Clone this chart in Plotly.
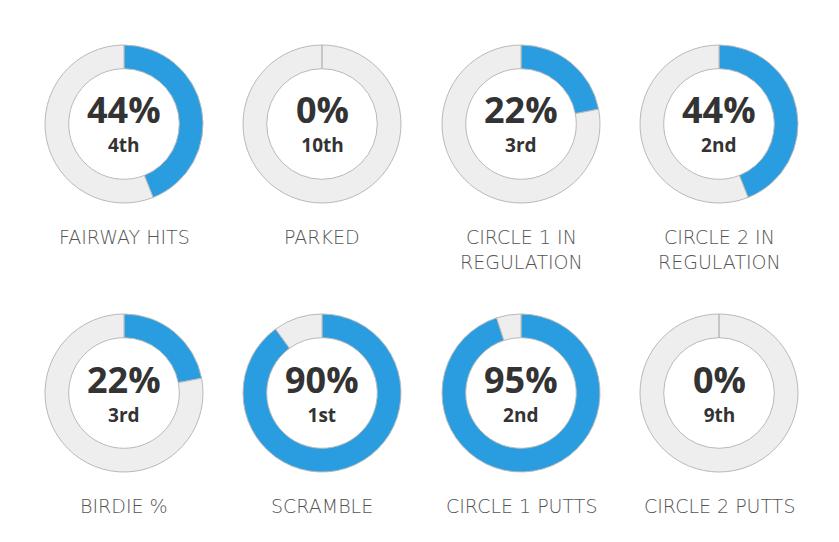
import plotly.graph_objects as go

# the page body keeps its default 8px margin, so the figure is drawn 8px in
PAD = 8
W, H = 839 - PAD, 542 - PAD

# stats shown in the rings
labels = ["FAIRWAY HITS", "PARKED", "CIRCLE 1 IN<br>REGULATION", "CIRCLE 2 IN<br>REGULATION",
          "BIRDIE %", "SCRAMBLE", "CIRCLE 1 PUTTS", "CIRCLE 2 PUTTS"]
pct = [44, 0, 22, 44, 22, 90, 95, 0]
rank = ["4th", "10th", "3rd", "2nd", "3rd", "1st", "2nd", "9th"]

BLUE = "#2a9de0"
GREY = "#eeeeee"
EDGE = "#b9b9b9"
INK = "#333333"

col_x = [124, 322, 521, 719]   # ring centres in screen px
row_y = [124, 393]
R = 79                         # outer radius, px
HOLE = 0.70


def px(x):
    return (x - PAD) / W


def py(y):
    return 1 - (y - PAD) / H


fig = go.Figure()

for i, (lab, p, rk) in enumerate(zip(labels, pct, rank)):
    cx = col_x[i % 4]
    cy = row_y[i // 4]
    fig.add_trace(go.Pie(
        values=[p, 100 - p],
        sort=False, direction="clockwise", rotation=0,
        hole=HOLE,
        marker=dict(colors=[BLUE, GREY], line=dict(color=EDGE, width=1)),
        textinfo="none", hoverinfo="skip", showlegend=False,
        domain=dict(x=[px(cx - R), px(cx + R)], y=[py(cy + R), py(cy - R)]),
    ))
    if p == 0:
        # seam of the empty slice at 12 o'clock
        fig.add_shape(type="line", xref="paper", yref="paper",
                      x0=px(cx), x1=px(cx),
                      y0=py(cy - R), y1=py(cy - R * HOLE),
                      line=dict(color=EDGE, width=1.5))
    # value and rank in one block so the two lines sit tight
    fig.add_annotation(x=px(cx), y=py(cy - 2), xref="paper", yref="paper",
                       xanchor="center", yanchor="middle", align="center",
                       text=(f"<span style='font-size:36px'><b>{p}%</b></span><br>"
                             f"<span style='font-size:19px'><b>{rk}</b></span>"),
                       showarrow=False,
                       font=dict(family="Open Sans", size=22, color=INK))
    fig.add_annotation(x=px(cx), y=py(cy + 100), xref="paper", yref="paper",
                       xanchor="center", yanchor="top", align="center",
                       text=lab, showarrow=False,
                       font=dict(family="DejaVu Sans", size=19, color="#555555", weight=300))

fig.update_layout(
    width=W, height=H,
    margin=dict(l=0, r=0, t=0, b=0),
    paper_bgcolor="white", plot_bgcolor="white",
)

fig.write_html("out.html")
